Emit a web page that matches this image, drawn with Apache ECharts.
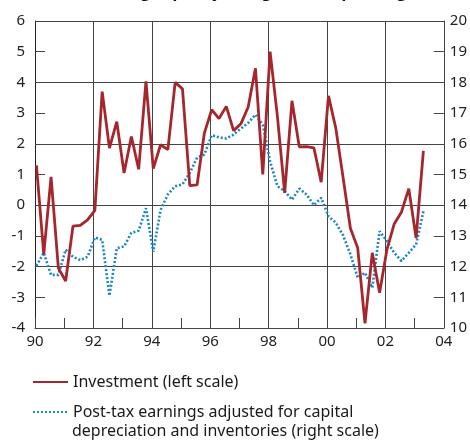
<!DOCTYPE html>
<html>
<head>
<meta charset="utf-8">
<script src="https://cdn.jsdelivr.net/npm/echarts@6/dist/echarts.min.js"></script>
<style>
  html, body { margin: 0; padding: 0; background: #fff; }
  #chart { width: 470px; height: 441px; }
</style>
</head>
<body>
<div id="chart"></div>
<script>
// quarterly, 1990Q1 .. 2003Q2
const startYear = 1990
const yearTicks = ['90', '92', '94', '96', '98', '00', '02', '04']

// Investment, left scale
const investment = [
  1.3, -1.6, 0.92, -2.05, -2.47, -0.68, -0.66, -0.48,
  -0.17, 3.7, 1.86, 2.72, 1.05, 2.24, 1.17, 4.03,
  1.19, 1.97, 1.81, 4.0, 3.79, 0.64, 0.66, 2.35,
  3.11, 2.82, 3.22, 2.43, 2.65, 3.2, 4.46, 1.0,
  5.0, 2.9, 0.4, 3.4, 1.9, 1.91, 1.87, 0.75,
  3.56, 2.51, 0.9, -0.75, -1.39, -3.85, -1.55, -2.85,
  -1.45, -0.61, -0.22, 0.54, -1.07, 1.77
]

// Post-tax earnings adjusted for capital depreciation and inventories, right scale
const earnings = [
  12.02, 12.45, 11.73, 11.73, 12.55, 12.32, 12.21, 12.32,
  12.95, 12.87, 11.05, 12.6, 12.66, 13.1, 13.17, 13.9,
  12.48, 13.85, 14.35, 14.62, 14.68, 15.05, 15.55, 15.65,
  16.28, 16.21, 16.17, 16.3, 16.5, 16.68, 16.95, 16.62,
  15.43, 14.62, 14.46, 14.18, 14.54, 14.35, 14.0, 14.24,
  13.64, 13.43, 13.02, 12.4, 11.64, 11.8, 11.31, 13.15,
  12.83, 12.45, 12.18, 12.45, 12.72, 13.8
]

const quarters = investment.map((v, i) => startYear + 0.05 + i / 4)

const chart = echarts.init(document.getElementById('chart'))
const font = 'Noto Sans'
const gridColor = '#444'

const option = {
  animation: false,
  grid: { left: 35, right: 24, top: 21, bottom: 113 },
  legend: {
    orient: 'vertical',
    left: 32,
    top: 374,
    padding: 0,
    itemWidth: 35,
    itemHeight: 16,
    itemGap: 14,
    selectedMode: false,
    itemStyle: { opacity: 0 },
    textStyle: { fontFamily: font, fontSize: 16, color: '#1a1a1a' },
    data: ['Investment (left scale)', 'Post-tax earnings adjusted for capital']
  },
  graphic: [
    {
      // title, cut off by the top edge: only the descenders show
      type: 'text',
      x: 240,
      y: 0,
      style: {
        text: 'Financing capacity, margins and spending',
        font: 'bold 16px "Noto Sans"',
        fill: '#111',
        align: 'center',
        verticalAlign: 'bottom'
      }
    },
    {
      type: 'text',
      left: 72,
      top: 423,
      style: {
        text: 'depreciation and inventories (right scale)',
        font: '16px "Noto Sans"',
        fill: '#1a1a1a'
      }
    }
  ],
  xAxis: {
    type: 'value',
    min: 1990,
    max: 2004,
    interval: 2,
    axisLine: { show: true, onZero: false, lineStyle: { color: gridColor } },
    axisTick: { show: true, inside: true, length: 10, lineStyle: { color: gridColor } },
    minorTick: { show: true, splitNumber: 2, length: 10, lineStyle: { color: gridColor } },
    splitLine: { show: true, lineStyle: { color: gridColor } },
    axisLabel: {
      margin: 6,
      fontFamily: font,
      fontSize: 15,
      color: '#222',
      formatter: v => yearTicks[(v - 1990) / 2]
    }
  },
  yAxis: [
    {
      type: 'value',
      position: 'left',
      min: -4,
      max: 6,
      interval: 1,
      axisLine: { show: true, lineStyle: { color: '#222' } },
      axisTick: { show: true, inside: true, length: 10, lineStyle: { color: gridColor } },
      splitLine: { show: false },
      axisLabel: { margin: 10, fontFamily: font, fontSize: 15, color: '#222' }
    },
    {
      type: 'value',
      position: 'right',
      min: 10,
      max: 20,
      interval: 1,
      axisLine: { show: true, lineStyle: { color: gridColor } },
      axisTick: { show: true, inside: true, length: 10, lineStyle: { color: gridColor } },
      splitLine: { show: false },
      axisLabel: { margin: 6, fontFamily: font, fontSize: 15, color: '#222' }
    },
    {
      // gridlines only, every second unit
      type: 'value',
      position: 'left',
      min: -4,
      max: 6,
      interval: 2,
      axisLine: { show: false },
      axisTick: { show: false },
      axisLabel: { show: false },
      splitLine: { show: true, lineStyle: { color: gridColor } }
    }
  ],
  series: [
    {
      name: 'Investment (left scale)',
      type: 'line',
      yAxisIndex: 0,
      symbol: 'none',
      z: 3,
      color: '#a5262d',
      lineStyle: { color: '#a5262d', width: 2.8 },
      data: quarters.map((x, i) => [x, investment[i]])
    },
    {
      name: 'Post-tax earnings adjusted for capital',
      type: 'line',
      yAxisIndex: 1,
      symbol: 'none',
      z: 2,
      color: '#1a84cc',
      lineStyle: { color: '#1a84cc', width: 2.6, type: [2, 2] },
      data: quarters.map((x, i) => [x, earnings[i]])
    }
  ]
}

chart.setOption(option)
</script>
</body>
</html>
